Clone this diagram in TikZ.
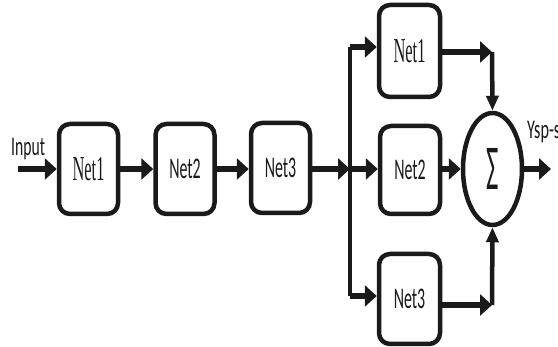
\documentclass[tikz,border=0pt]{standalone}
\usepackage{fontspec}
\setmainfont{Liberation Serif}
\newfontfamily\carl{Carlito}
\usetikzlibrary{arrows.meta,shapes.geometric}
\definecolor{ink}{HTML}{1A1A1A}
\newcommand\serlab[1]{\scalebox{0.47}[1]{\fontsize{35}{35}\selectfont #1}}
\newcommand\sanlab[1]{\scalebox{0.53}[1]{\carl\fontsize{30}{30}\selectfont #1}}
\begin{document}
\begin{tikzpicture}[x=1pt,y=-1pt,
  netbox/.style={draw=ink,line width=4.5pt,rounded corners=11pt,minimum width=59pt,minimum height=90pt,inner sep=0pt,text=ink},
  harr/.style={draw=ink,line width=6.5pt,-{Triangle[length=12pt,width=21pt]}},
  varr/.style={draw=ink,line width=4.5pt,-{Triangle[length=15pt,width=12pt]}},
  busline/.style={draw=ink,line width=4pt}]
\useasboundingbox (0,0) rectangle (558,347);
% main chain
\node[netbox] (n1) at (88.5,169) {\serlab{Net1}};
\node[netbox] (n2) at (185,169) {\sanlab{Net2}};
\node[netbox] (n3) at (280.5,168) {\sanlab{Net3}};
% parallel nets
\node[netbox,minimum width=61pt,minimum height=92pt] (t1) at (409.5,51) {\serlab{Net1}};
\node[netbox,minimum width=60pt,minimum height=88pt] (m2) at (410,170) {\sanlab{Net2}};
\node[netbox,minimum width=61pt,minimum height=90pt] (b3) at (409.5,299) {\sanlab{Net3}};
% summing junction
\node[ellipse,draw=ink,line width=4.5pt,minimum width=59pt,minimum height=112pt,inner sep=0pt,text=ink] (sum) at (492.5,169)
  {\scalebox{0.42}[1]{\carl\fontsize{64}{64}\selectfont Σ}};
% labels
\node[anchor=base west,inner sep=0pt,text=ink] (inlab) at (11,156) {\scalebox{0.58}[1]{\carl\fontsize{27}{27}\selectfont Input}};
\node[anchor=base west,inner sep=0pt,text=ink] (outlab) at (527,139) {\scalebox{0.6}[1]{\carl\fontsize{27}{27}\selectfont Ysp-s}};
% coordinates
\coordinate (in) at (18,169);
\coordinate (bustop) at (350,47);
\coordinate (busmid) at (350,169);
\coordinate (busbot) at (350,296);
\coordinate (c1) at (492,52);
\coordinate (c3) at (492,305);
\coordinate (out) at (551,169);
% connectors
\draw[harr] (in) -- (n1.west);
\draw[harr] (n1.east) -- (n2.west);
\draw[harr] (n2.east) -- (n2.east -| n3.west);
\draw[harr] (n3.east |- busmid) -- (busmid);
\draw[busline] (bustop) -- (busbot);
\draw[harr] (bustop) -- (bustop -| t1.west);
\draw[harr] (busmid) -- (busmid -| m2.west);
\draw[harr] (busbot) -- (busbot -| b3.west);
\draw[harr] (m2.east |- sum.west) -- (sum.west);
\draw[harr] (c1 -| t1.east) -- (c1);
\draw[varr] (c1) -- (sum.north);
\draw[harr] (c3 -| b3.east) -- (c3);
\draw[varr] (c3) -- (sum.south);
\draw[harr] (sum.east) -- (out);
\end{tikzpicture}
\end{document}
